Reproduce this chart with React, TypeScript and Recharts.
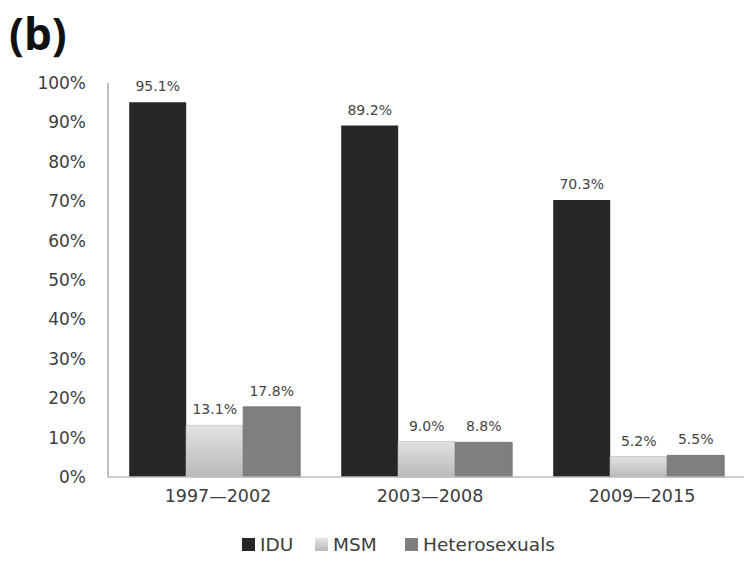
import React from 'react';
import { BarChart, Bar, XAxis, YAxis, LabelList, Legend } from 'recharts';

const periods = ['1997\u20142002', '2003\u20142008', '2009\u20142015'];
const idu = [95.1, 89.2, 70.3];
const msm = [13.1, 9.0, 5.2];
const hetero = [17.8, 8.8, 5.5];
const yTicks = [0, 10, 20, 30, 40, 50, 60, 70, 80, 90, 100];

const data = periods.map((period, i) => ({
  period,
  IDU: idu[i],
  MSM: msm[i],
  Heterosexuals: hetero[i],
}));

const FONT = '"DejaVu Sans", sans-serif';
const TEXT = '#3d3d3d';

const legendItems = [
  { name: 'IDU', swatch: '#262626', left: 242 },
  { name: 'MSM', swatch: 'linear-gradient(#e4e4e4, #b8b8b8)', left: 315 },
  { name: 'Heterosexuals', swatch: '#7f7f7f', left: 405 },
];

function LegendContent() {
  return (
    <div style={{ position: 'relative', height: 24, fontFamily: FONT, fontSize: 18.5, color: TEXT }}>
      {legendItems.map((it) => (
        <div
          key={it.name}
          style={{ position: 'absolute', left: it.left, top: 0, height: 24, display: 'flex', alignItems: 'center', whiteSpace: 'nowrap' }}
        >
          <span style={{ width: 13, height: 13, background: it.swatch, display: 'inline-block', marginRight: 5 }} />
          <span>{it.name}</span>
        </div>
      ))}
    </div>
  );
}

const pct = (v: number) => `${v.toFixed(1)}%`;

export default function App() {
  return (
    <div style={{ position: 'absolute', left: 0, top: 0, width: 750, height: 563, background: '#fff' }}>
      <div
        style={{
          position: 'absolute',
          left: 9,
          top: 1,
          fontFamily: '"Open Sans", sans-serif',
          fontWeight: 700,
          fontSize: 44,
          color: '#111',
          lineHeight: '64px',
        }}
      >
        (b)
      </div>
      <BarChart
        width={750}
        height={563}
        data={data}
        margin={{ top: 83, right: 6, left: 0, bottom: 20 }}
        barCategoryGap="10%"
        barGap={0}
      >
        <defs>
          <linearGradient id="msmFill" x1="0" y1="0" x2="0" y2="1">
            <stop offset="0%" stopColor="#e2e2e2" />
            <stop offset="100%" stopColor="#b9b9b9" />
          </linearGradient>
        </defs>
        <XAxis
          dataKey="period"
          height={42}
          tickLine={false}
          tickSize={0}
          tickMargin={13}
          axisLine={{ stroke: '#bdbdbd', strokeWidth: 1.5 }}
          tick={{ fill: TEXT, fontSize: 17.5, fontFamily: FONT, dx: 4 }}
        />
        <YAxis
          width={108}
          domain={[0, 100]}
          ticks={yTicks}
          interval={0}
          tickLine={false}
          tickSize={0}
          tickMargin={22}
          axisLine={{ stroke: '#a8a8a8', strokeWidth: 1.5 }}
          tickFormatter={(v: number) => `${v}%`}
          tick={{ fill: TEXT, fontSize: 17, fontFamily: FONT }}
        />
        <Legend content={<LegendContent />} wrapperStyle={{ top: 532, left: 0, width: 750 }} />
        <Bar dataKey="IDU" fill="#262626" isAnimationActive={false}>
          <LabelList dataKey="IDU" position="top" offset={11} formatter={pct} fill="#444" fontSize={14} fontFamily={FONT} />
        </Bar>
        <Bar dataKey="MSM" fill="url(#msmFill)" stroke="#c4c4c4" strokeWidth={0.8} isAnimationActive={false}>
          <LabelList dataKey="MSM" position="top" offset={11} formatter={pct} fill="#444" fontSize={14} fontFamily={FONT} />
        </Bar>
        <Bar dataKey="Heterosexuals" fill="#7f7f7f" stroke="#6e6e6e" strokeWidth={0.8} isAnimationActive={false}>
          <LabelList dataKey="Heterosexuals" position="top" offset={11} formatter={pct} fill="#444" fontSize={14} fontFamily={FONT} />
        </Bar>
      </BarChart>
    </div>
  );
}
